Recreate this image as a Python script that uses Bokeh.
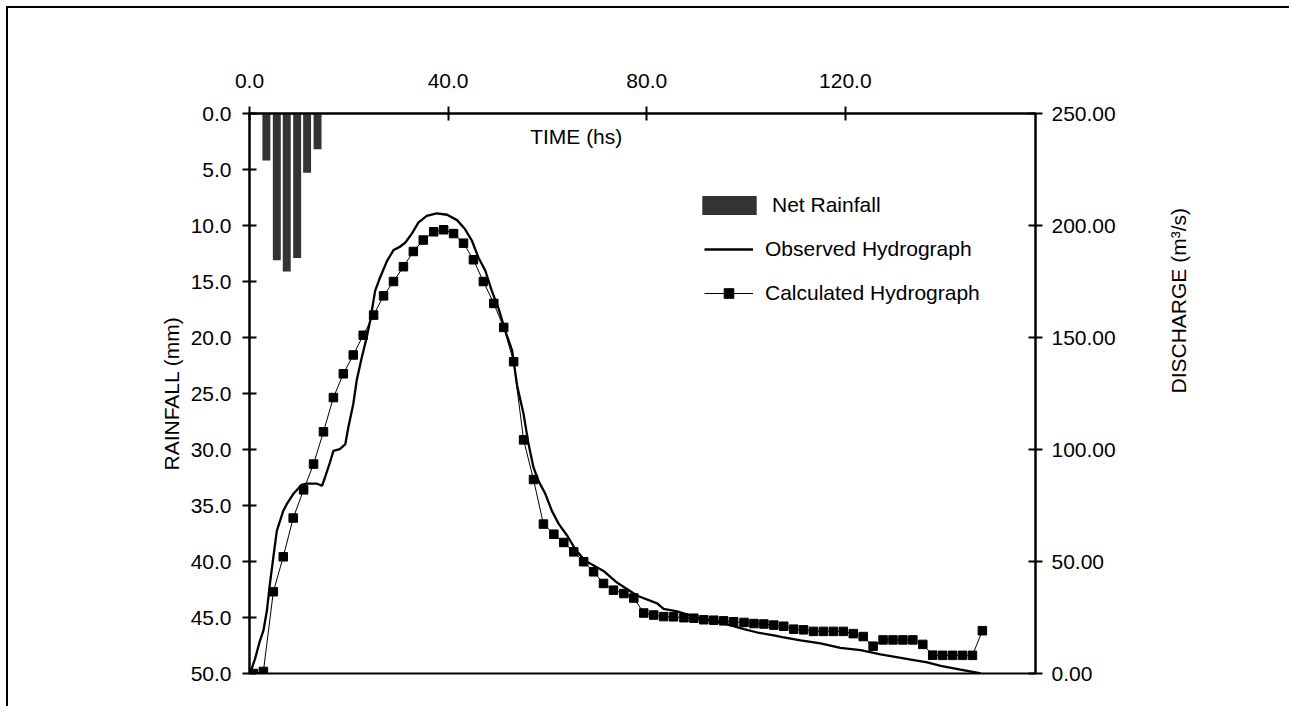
import math
from bokeh.plotting import figure
from bokeh.models import (Range1d, LinearAxis, FixedTicker, PrintfTickFormatter,
                          Legend, LegendItem, Label)
from bokeh.embed import file_html
from bokeh.resources import INLINE

# ---------------- data ----------------
rain_time = [3.4, 5.5, 7.5, 9.6, 11.6, 13.7]
rain_mm = [4.2, 13.1, 14.1, 12.9, 5.3, 3.2]

obs_time = [0.1, 1.1, 2.1, 2.8, 3.5, 4.1, 4.8, 5.5, 6.8, 7.5,
            8.8, 10.5, 11.5, 13.5, 14.6, 15.2, 16.2, 16.9, 18.2, 19.3,
            19.9, 20.9, 21.6, 22.6, 23.6, 24.3, 25.3, 26.3, 27.7, 29.0,
            30.3, 31.4, 32.7, 34.0, 35.7, 37.7, 39.8, 41.8, 43.4, 44.8,
            46.1, 47.5, 48.8, 50.2, 51.5, 52.9, 53.9, 55.2, 56.2, 57.2,
            58.2, 59.6, 60.9, 62.3, 64.0, 65.6, 67.6, 71.3, 74.0, 78.1,
            82.1, 83.4, 86.1, 90.2, 95.5, 99.6, 102.3, 105.6, 107.3, 111.0,
            115.0, 119.0, 123.1, 127.1, 133.2, 136.5, 139.2, 143.2, 147.3]
obs_q = [0.0, 6.4, 14.6, 19.1, 28.0, 39.9, 51.8, 63.7, 72.6, 75.6,
         80.1, 84.2, 84.8, 84.8, 83.8, 87.5, 94.2, 99.4, 100.2, 102.4,
         109.8, 120.3, 131.0, 141.0, 150.0, 157.5, 170.8, 176.8, 184.2, 189.0,
         190.5, 192.4, 196.4, 201.3, 204.3, 205.4, 204.8, 202.4, 198.4, 193.2,
         185.7, 179.8, 170.8, 162.7, 153.0, 144.1, 128.5, 115.8, 102.4, 92.0,
         86.0, 80.1, 72.6, 66.7, 61.5, 55.5, 50.3, 45.8, 40.6, 34.7,
         31.3, 28.8, 27.7, 25.0, 22.4, 19.8, 18.3, 17.0, 16.2, 14.8,
         13.4, 11.4, 10.4, 8.5, 6.2, 5.0, 3.4, 1.7, 0.0]

calc_time = [0.8, 2.8, 4.8, 6.8, 8.8, 10.9, 12.9, 14.9, 16.9, 18.9,
             20.9, 22.9, 25.0, 27.0, 29.0, 31.0, 33.0, 35.0, 37.1, 39.1,
             41.1, 43.1, 45.1, 47.1, 49.2, 51.2, 53.2, 55.2, 57.2, 59.2,
             61.3, 63.3, 65.3, 67.3, 69.3, 71.3, 73.3, 75.4, 77.4, 79.4,
             81.4, 83.4, 85.4, 87.5, 89.5, 91.5, 93.5, 95.5, 97.5, 99.6,
             101.6, 103.6, 105.6, 107.6, 109.6, 111.6, 113.6, 115.6, 117.6, 119.6,
             121.6, 123.6, 125.6, 127.6, 129.6, 131.6, 133.6, 135.6, 137.6, 139.6,
             141.6, 143.6, 145.6, 147.6]
calc_q = [0.0, 0.9, 36.5, 52.1, 69.4, 82.0, 93.5, 107.9, 123.2, 133.8,
          142.2, 151.0, 160.0, 168.6, 175.0, 181.6, 188.4, 193.5, 197.2, 198.1,
          196.4, 192.1, 184.7, 175.0, 165.2, 154.5, 139.2, 104.3, 86.6, 66.7,
          62.2, 58.5, 54.3, 49.9, 45.4, 40.2, 37.2, 35.7, 33.7, 27.0,
          26.1, 25.4, 25.3, 24.9, 24.7, 24.0, 23.8, 23.5, 23.1, 22.8,
          22.3, 22.1, 21.6, 21.1, 19.8, 19.5, 18.8, 18.8, 18.8, 18.8,
          17.8, 16.5, 12.2, 15.0, 15.0, 15.0, 15.0, 13.0, 8.2, 8.1,
          8.1, 8.1, 8.1, 19.1]

time_ticks = [0, 40, 80, 120]
rain_ticks = [0, 5, 10, 15, 20, 25, 30, 35, 40, 45, 50]
q_ticks = [0, 50, 100, 150, 200, 250]

FONT = "Liberation Sans"
FS = "21px"

# ---------------- figure ----------------
p = figure(width=1283, height=700,
           x_range=Range1d(0, 158.3), y_range=Range1d(50, 0),
           x_axis_location="above",
           output_backend="svg", toolbar_location=None,
           min_border_left=241, min_border_top=105,
           min_border_right=256, min_border_bottom=35)
p.margin = (8, 0, 0, 8)
p.extra_y_ranges = {"q": Range1d(0, 250)}
# outer box: only its top and left edges are inside the window
p.styles = {
    "box-shadow": "-2px -2px 0 0 #000000",
    "clip-path": ("polygon(-10px -10px, calc(100% + 10px) -10px, calc(100% + 10px) 0px, "
                  "calc(100% - 4px) 0px, calc(100% - 4px) calc(100% + 10px), "
                  "-10px calc(100% + 10px))"),
}

p.xgrid.visible = False
p.ygrid.visible = False
p.background_fill_color = "white"
p.border_fill_color = "white"
p.outline_line_color = "black"
p.outline_line_width = 2


def style_axis(ax, ticks, fmt):
    ax.ticker = FixedTicker(ticks=ticks, minor_ticks=[])
    ax.formatter = PrintfTickFormatter(format=fmt)
    ax.axis_line_width = 2
    ax.axis_line_color = "black"
    ax.major_tick_line_width = 2
    ax.major_tick_line_color = "black"
    ax.major_tick_in = 7
    ax.major_tick_out = 7
    ax.minor_tick_line_color = None
    ax.major_label_text_font = FONT
    ax.major_label_text_font_size = FS
    ax.major_label_text_color = "black"
    ax.axis_label_text_font = FONT
    ax.axis_label_text_font_size = FS
    ax.axis_label_text_font_style = "normal"
    ax.axis_label_text_color = "black"


top = p.xaxis[0]
style_axis(top, time_ticks, "%.1f")
top.major_label_standoff = 19

left = p.yaxis[0]
style_axis(left, rain_ticks, "%.1f")
left.axis_label = "RAINFALL (mm)"
left.major_label_standoff = 11
left.axis_label_standoff = 5

right = LinearAxis(y_range_name="q")
style_axis(right, q_ticks, "%.2f")
right.major_label_standoff = 9
right.axis_label = "DISCHARGE (m³/s)"
right.axis_label_standoff = 60
if "axis_label_orientation" in right.properties():
    right.axis_label_orientation = math.pi / 2
p.add_layout(right, "right")

# ---------------- glyphs ----------------
bars = p.vbar(x=rain_time, top=[0] * len(rain_mm), bottom=rain_mm, width=1.6,
              fill_color="#333333", line_color=None)

obs = p.line(obs_time, obs_q, y_range_name="q", line_color="black", line_width=2.3)

calc_line = p.line(calc_time, calc_q, y_range_name="q", line_color="black", line_width=1)
calc_pts = p.scatter(calc_time, calc_q, y_range_name="q", marker="square", size=8.5,
                     fill_color="black", line_color="black")

p.add_layout(Label(x=65.8, y=2.05, text="TIME (hs)", text_font=FONT, text_font_size=FS,
                   text_align="center", text_baseline="middle", text_color="black"))

# ---------------- legends ----------------
leg1 = Legend(items=[LegendItem(label="Net Rainfall", renderers=[bars])],
              location=(446, 456), glyph_width=68, glyph_height=24, label_height=24,
              label_standoff=9, padding=0, margin=0, spacing=0,
              border_line_color=None, background_fill_alpha=0,
              label_text_font=FONT, label_text_font_size=FS, label_text_color="black")
leg2 = Legend(items=[LegendItem(label="Observed Hydrograph", renderers=[obs]),
                     LegendItem(label="Calculated Hydrograph", renderers=[calc_line, calc_pts])],
              location=(455, 368), glyph_width=49, glyph_height=24, label_height=24,
              label_standoff=12, padding=0, margin=0, spacing=20,
              border_line_color=None, background_fill_alpha=0,
              label_text_font=FONT, label_text_font_size=FS, label_text_color="black")
p.add_layout(leg1)
p.add_layout(leg2)

open("out.html", "w").write(file_html(p, INLINE))
